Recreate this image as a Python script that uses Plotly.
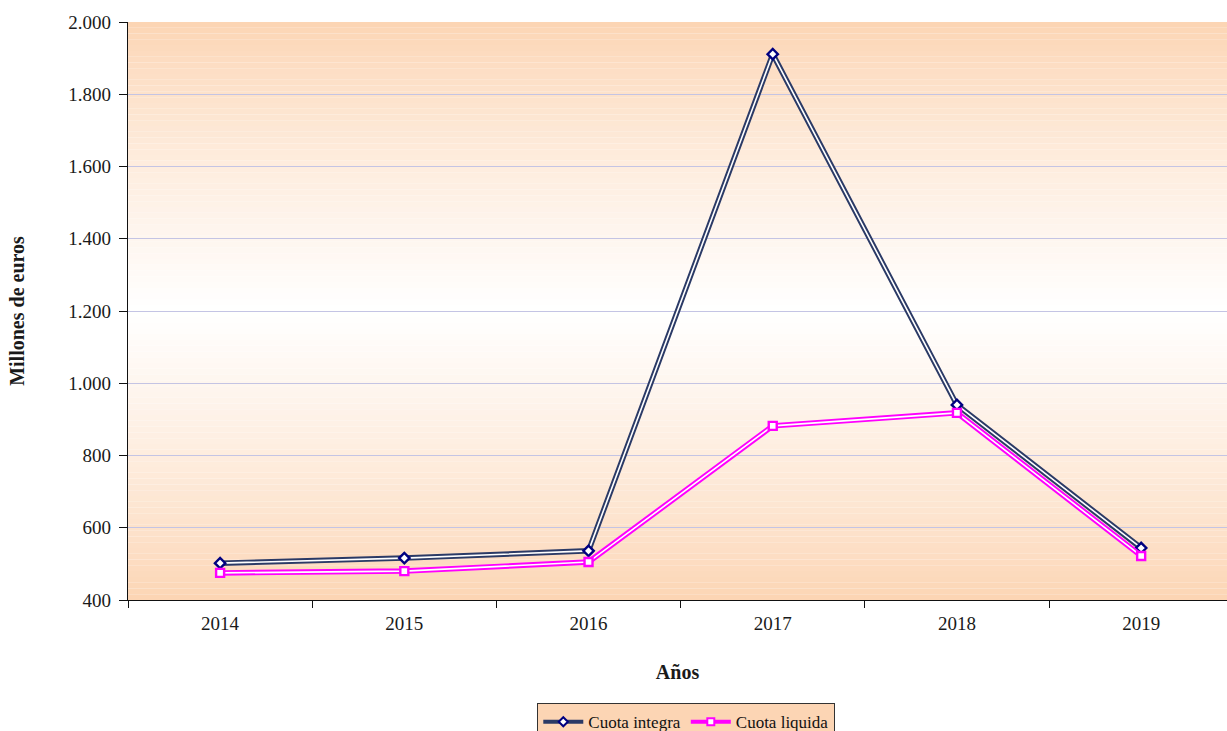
import plotly.graph_objects as go

years = ["2014", "2015", "2016", "2017", "2018", "2019"]
cuota_integra = [502, 516, 536, 1911, 940, 544]
cuota_liquida = [475, 480, 505, 882, 918, 522]
y_ticks = [400, 600, 800, 1000, 1200, 1400, 1600, 1800, 2000]

FONT = "Liberation Serif, Times New Roman, serif"

fig = go.Figure()

# Background gradient (peach -> white -> peach)
peach = (252, 212, 178)
white = (255, 255, 255)
n = 100
shapes = []
for i in range(n):
    t0 = i / n
    t1 = (i + 1) / n
    tm = (t0 + t1) / 2
    w = 1 - abs(tm - 0.5) * 2
    w = max(0.0, min(1.0, w)) ** 0.8
    c = tuple(int(round(peach[k] + (white[k] - peach[k]) * w)) for k in range(3))
    shapes.append(dict(type="rect", xref="paper", yref="paper", x0=0, x1=1, y0=t0, y1=t1,
                       fillcolor=f"rgb{c}", line=dict(width=0), layer="below"))

series = [
    ("Cuota integra", cuota_integra, "#2B3A66", "#000080", "diamond"),
    ("Cuota liquida", cuota_liquida, "#FF00FF", "#FF00FF", "square"),
]
for name, vals, lc, mc, sym in series:
    fig.add_trace(go.Scatter(x=years, y=vals, mode="lines", name=name,
                             line=dict(color=lc, width=5.5), showlegend=False,
                             hoverinfo="skip"))
    fig.add_trace(go.Scatter(x=years, y=vals, mode="lines", line=dict(color="white", width=1.6),
                             showlegend=False, hoverinfo="skip"))
    fig.add_trace(go.Scatter(x=years, y=vals, mode="markers", name=name,
                             marker=dict(symbol=sym, size=8, color="white",
                                         line=dict(color=mc, width=2.4)),
                             showlegend=False))
    fig.add_trace(go.Scatter(x=[None], y=[None], mode="lines+markers", name=name,
                             line=dict(color=lc, width=4),
                             marker=dict(symbol=sym, size=7, color="white",
                                         line=dict(color=mc, width=2))))

fig.update_layout(
    width=1227, height=731,
    margin=dict(l=128, r=0, t=22, b=131),
    paper_bgcolor="white",
    plot_bgcolor="rgba(0,0,0,0)",
    separators=",.",
    shapes=shapes,
    font=dict(family=FONT, size=19, color="#1a1a1a"),
    showlegend=True,
    legend=dict(orientation="h", x=0.508, xanchor="center", yref="container", y=0.038,
                yanchor="top", bgcolor="#FCD5B4", bordercolor="#333333", borderwidth=1,
                font=dict(family=FONT, size=17, color="#111111"),
                itemwidth=40, tracegroupgap=0),
    xaxis=dict(type="category", range=[-0.5, 5.466], tickson="boundaries",
               ticks="outside", ticklen=7, tickcolor="#111111", showline=True,
               linecolor="#111111", linewidth=1.2, showgrid=False, zeroline=False,
               tickfont=dict(family=FONT, size=19), ticklabelstandoff=6,
               title=dict(text="<b>Años</b>", font=dict(family=FONT, size=20), standoff=32)),
    yaxis=dict(range=[400, 2000], tickvals=y_ticks, tickformat=",d", ticks="outside",
               ticklen=8, tickcolor="#111111", showline=True, linecolor="#111111",
               linewidth=1.2, showgrid=True, gridcolor="#C4C4E4", gridwidth=1,
               zeroline=False, tickfont=dict(family=FONT, size=19), ticklabelstandoff=4,
               title=dict(text="<b>Millones de euros</b>", font=dict(family=FONT, size=20),
                          standoff=38)),
)

fig.write_html("out.html", config={"displayModeBar": False},
               post_script="document.body.style.margin='0';document.body.style.overflow='hidden';")
